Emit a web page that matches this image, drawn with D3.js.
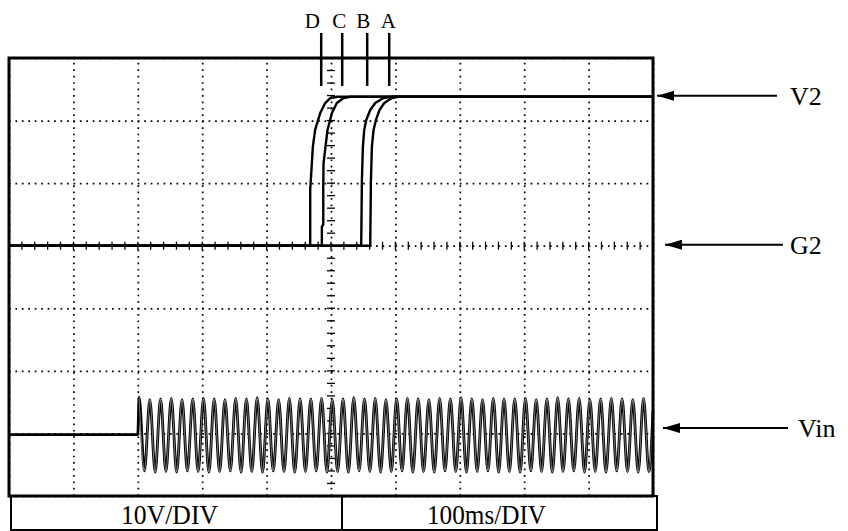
<!DOCTYPE html>
<html>
<head>
<meta charset="utf-8">
<script src="https://cdn.jsdelivr.net/npm/d3@7"></script>
<style>
  html, body { margin: 0; padding: 0; background: #fff; }
  svg { display: block; }
  text { font-family: "Liberation Serif", "Times New Roman", serif; fill: #000; }
</style>
</head>
<body>
<svg id="chart" width="848" height="531"></svg>
<script>
// ---------------- data (time in ms, voltage in V) ----------------
const timeDomain = [0, 1000];          // 10 div x 100 ms/div
const voltDomain = [-40, 30];          // 7 div x 10 V/div
const scaleLabels = ["10V/DIV", "100ms/DIV"];

// V2 rise traces (time ms, volts)
const traceD = [[0,0],[467.7,0],[467.7,8.9],[470.3,13.2],[471.8,15.8],[475.4,18.5],[483.2,21.2],[491,22.8],[498.8,23.6],[510,23.8],[1000,23.8]];
const traceC = [[0,0],[485.8,0],[485.8,3],[488,3.4],[488,9.4],[488.4,13.2],[494.6,18.5],[501.4,21.2],[509.1,22.8],[519.5,23.6],[530,23.8],[1000,23.8]];
const traceB = [[0,0],[546.9,0],[548,10.5],[549.5,15.8],[551.6,18.5],[554.7,20.1],[560.9,21.7],[568.7,22.8],[581.6,23.6],[595,23.8],[1000,23.8]];
const traceA = [[0,0],[560.9,0],[562,10.5],[563.5,15.8],[566.1,18.5],[569.8,20.1],[575.4,21.7],[582.7,22.8],[594.6,23.6],[605,23.8],[1000,23.8]];
const traceNames = ["D","C","B","A"];
const markerTimes = [484.8, 517.4, 556.2, 590.4];   // D, C, B, A cursor marks

// Vin: 60 Hz mains, switched on at 200 ms, offset -30.2 V
const vinOnsetMs = 200;
const vinFrequencyHz = 60;
const vinBaseline = -30.2;
const vinPeaks = [-24.2,-24.6,-24.5,-24.4,-24.6,-24.5,-24.4,-24.5,-24.6,-24.4,
                  -24.5,-24.3,-24.5,-24.6,-24.4,-24.5,-24.5,-24.4,-24.6,-24.5,
                  -24.3,-24.5,-24.4,-24.6,-24.5,-24.4,-24.5,-24.6,-24.4,-24.5,
                  -24.3,-24.5,-24.6,-24.4,-24.5,-24.5,-24.4,-24.6,-24.5,-24.3,
                  -24.5,-24.4,-24.6,-24.5,-24.4,-24.5,-24.6,-24.4];
const vinTroughs = [-36.0,-36.2,-36.1,-36.2,-36.0,-36.1,-36.2,-36.1,-36.0,-36.2,
                    -36.1,-36.2,-36.0,-36.1,-36.2,-36.1,-36.0,-36.2,-36.1,-36.2,
                    -36.0,-36.1,-36.2,-36.1,-36.0,-36.2,-36.1,-36.2,-36.0,-36.1,
                    -36.2,-36.1,-36.0,-36.2,-36.1,-36.2,-36.0,-36.1,-36.2,-36.1,
                    -36.0,-36.2,-36.1,-36.2,-36.0,-36.1,-36.2,-36.1];
const vinEndValue = -26.5;

// right-side channel labels: [label, volts]
const channelLabels = [["V2", 23.8], ["G2", 0], ["Vin", -29.3]];

// ---------------- drawing ----------------
const svg = d3.select("#chart");
const x = d3.scaleLinear().domain(timeDomain).range([9, 653]);
const y = d3.scaleLinear().domain(voltDomain).range([496, 58]);

// grid
const grid = svg.append("g");
grid.append("g").attr("transform", `translate(0,${y(voltDomain[0])})`)
  .call(d3.axisBottom(x).ticks(10).tickSize(-(y(voltDomain[0]) - y(voltDomain[1]))).tickFormat(""))
  .call(g => g.select(".domain").remove())
  .call(g => g.selectAll(".tick line").attr("stroke", "#000").attr("stroke-width", 1.7).attr("stroke-dasharray", "1.7,4.74"));
grid.append("g").attr("transform", `translate(${x(timeDomain[0])},0)`)
  .call(d3.axisLeft(y).ticks(7).tickSize(-(x(timeDomain[1]) - x(timeDomain[0]))).tickFormat(""))
  .call(g => g.select(".domain").remove())
  .call(g => g.selectAll(".tick line").attr("stroke", "#000").attr("stroke-width", 1.7).attr("stroke-dasharray", "1.7,4.74"));

// centre graticule minor ticks
const minor = svg.append("g").attr("stroke", "#000").attr("stroke-width", 1.3);
minor.selectAll(".hx").data(x.ticks(50)).join("line")
  .attr("x1", d => x(d)).attr("x2", d => x(d)).attr("y1", y(0) - 4).attr("y2", y(0) + 4);
minor.selectAll(".vy").data(y.ticks(35)).join("line")
  .attr("x1", x(500) - 4).attr("x2", x(500) + 4).attr("y1", d => y(d)).attr("y2", d => y(d));

// traces
const line = d3.line().x(d => x(d[0])).y(d => y(d[1]));
const traces = [traceD, traceC, traceB, traceA];
svg.append("g").selectAll("path").data(traces).join("path")
  .attr("d", line).attr("fill", "none").attr("stroke", "#000").attr("stroke-width", 2.4)
  .attr("stroke-linejoin", "round");

// Vin
const period = 1000 / vinFrequencyHz;
const vinPts = [[timeDomain[0], vinBaseline], [vinOnsetMs, vinBaseline]];
vinPeaks.forEach((p, i) => {
  vinPts.push([vinOnsetMs + 2 + i * period, p]);
  vinPts.push([vinOnsetMs + 2 + (i + 0.5) * period, vinTroughs[i]]);
});
vinPts.push([timeDomain[1], vinEndValue]);
const vinLine = d3.line().x(d => x(d[0])).y(d => y(d[1])).curve(d3.curveMonotoneX);
svg.append("path").attr("d", vinLine(vinPts)).attr("fill", "none").attr("stroke", "#000").attr("stroke-width", 2.8);
svg.append("path").attr("d", vinLine(vinPts.slice(2))).attr("fill", "none").attr("stroke", "#fff").attr("stroke-width", 0.55).attr("stroke-opacity", 0.85);

// frame
svg.append("rect").attr("x", x(timeDomain[0])).attr("y", y(voltDomain[1]))
  .attr("width", x(timeDomain[1]) - x(timeDomain[0])).attr("height", y(voltDomain[0]) - y(voltDomain[1]))
  .attr("fill", "none").attr("stroke", "#000").attr("stroke-width", 3);

// scale boxes
const boxTop = y(voltDomain[0]);
const box = svg.append("g").attr("stroke", "#000").attr("stroke-width", 2).attr("fill", "none");
box.append("rect").attr("x", 11).attr("y", boxTop).attr("width", 646).attr("height", 34);
box.append("line").attr("x1", 342).attr("x2", 342).attr("y1", boxTop).attr("y2", boxTop + 34);
svg.append("text").attr("x", 121).attr("y", 524).attr("font-size", 28)
  .attr("textLength", 97).attr("lengthAdjust", "spacingAndGlyphs").text(scaleLabels[0]);
svg.append("text").attr("x", 427).attr("y", 524).attr("font-size", 28)
  .attr("textLength", 119).attr("lengthAdjust", "spacingAndGlyphs").text(scaleLabels[1]);

// cursor markers
const mk = svg.append("g");
mk.selectAll("line").data(markerTimes).join("line")
  .attr("x1", d => x(d)).attr("x2", d => x(d)).attr("y1", 33).attr("y2", 86)
  .attr("stroke", "#000").attr("stroke-width", 2.5);
mk.selectAll("text").data(markerTimes).join("text")
  .attr("x", (d, i) => x(d) + [-9, -3, -4, -1][i]).attr("y", 28)
  .attr("text-anchor", "middle").attr("font-size", 21).text((d, i) => traceNames[i]);

// arrows + channel labels
const defs = svg.append("defs");
defs.append("marker").attr("id", "ah").attr("viewBox", "0 0 17 10").attr("refX", 0).attr("refY", 5)
  .attr("markerWidth", 17).attr("markerHeight", 10).attr("markerUnits", "userSpaceOnUse").attr("orient", "0")
  .append("path").attr("d", "M0,5 L17,0 L17,10 Z").attr("fill", "#000");
const arrowStarts = [657, 665, 663];
const arrowEnds = [777, 783, 788];
const labelX = [790, 790, 798];
channelLabels.forEach(([lab, v], i) => {
  svg.append("line").attr("x1", arrowStarts[i]).attr("x2", arrowEnds[i]).attr("y1", y(v) - 1).attr("y2", y(v) - 1)
    .attr("stroke", "#000").attr("stroke-width", 2).attr("marker-start", "url(#ah)");
  svg.append("text").attr("x", labelX[i]).attr("y", y(v) + 8).attr("font-size", 26).text(lab);
});
</script>
</body>
</html>
